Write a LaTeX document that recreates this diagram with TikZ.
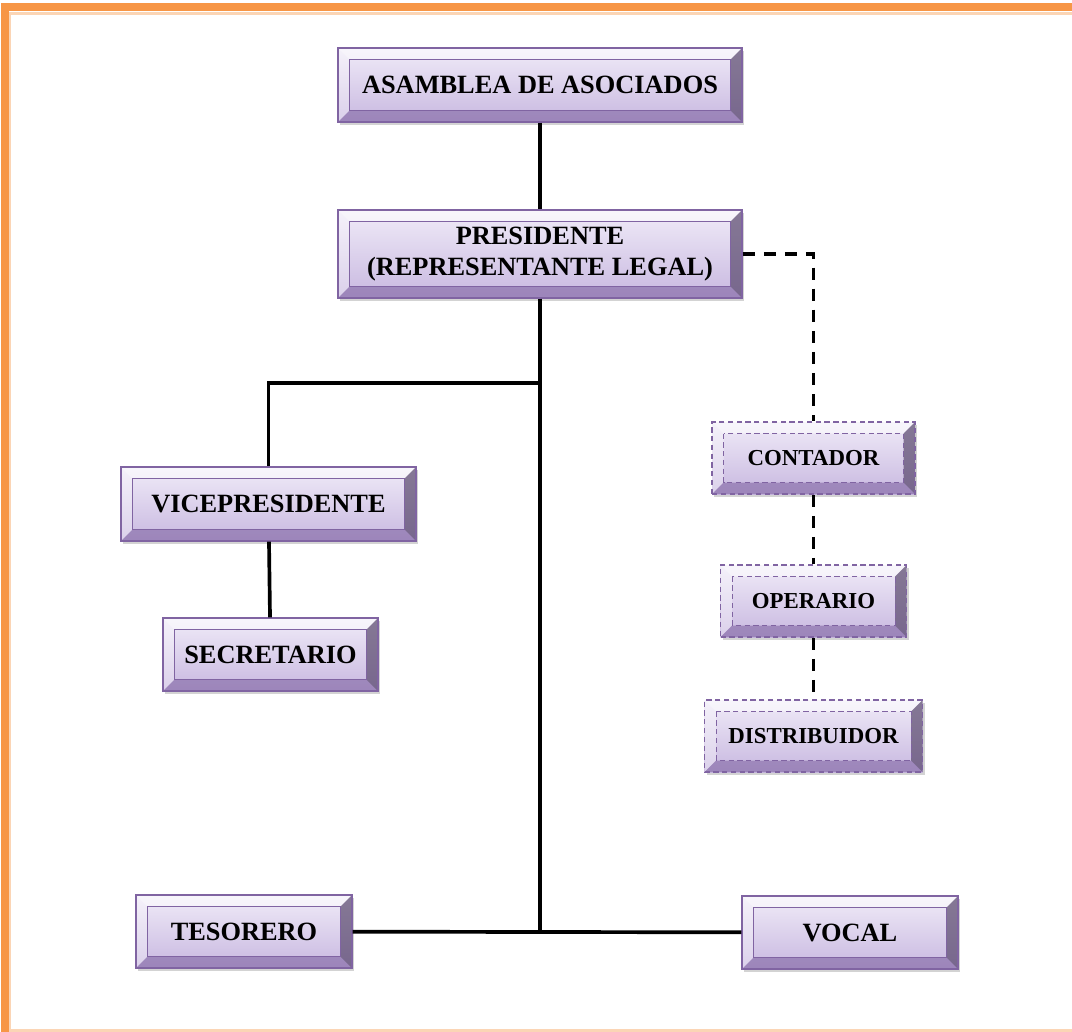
\documentclass[tikz,border=0pt]{standalone}
\usepackage{fontspec}
\setmainfont{Liberation Serif}
\usetikzlibrary{positioning,calc,shadows}

\definecolor{boxline}{HTML}{8064A2}
\definecolor{boxtop}{HTML}{F0EBF8}
\definecolor{boxbot}{HTML}{C8B8E0}
\definecolor{frameor}{HTML}{F79646}
\definecolor{framepale}{HTML}{FBD5B5}

\newcommand\bevsz{0.23cm}
% bevel faces of a box, #1 = style of the inner rim
\newcommand\bevelpaint[1]{%
  \path (path picture bounding box.north west) coordinate (bnw)
        (path picture bounding box.north east) coordinate (bne)
        (path picture bounding box.south west) coordinate (bsw)
        (path picture bounding box.south east) coordinate (bse);
  \fill[white,opacity=.55] (bnw) -- (bne) -- ($(bne)+(-\bevsz,-\bevsz)$) -- ($(bnw)+(\bevsz,-\bevsz)$) -- cycle;
  \fill[white,opacity=.35] (bnw) -- (bsw) -- ($(bsw)+(\bevsz,\bevsz)$) -- ($(bnw)+(\bevsz,-\bevsz)$) -- cycle;
  \fill[boxline,opacity=.6] (bsw) -- (bse) -- ($(bse)+(-\bevsz,\bevsz)$) -- ($(bsw)+(\bevsz,\bevsz)$) -- cycle;
  \fill[boxline!60!black,opacity=.65] (bne) -- (bse) -- ($(bse)+(-\bevsz,\bevsz)$) -- ($(bne)+(-\bevsz,-\bevsz)$) -- cycle;
  \draw[boxline,line width=.5pt,#1] ($(bnw)+(\bevsz,-\bevsz)$) rectangle ($(bse)+(-\bevsz,\bevsz)$);
}

\begin{document}
\begin{tikzpicture}[bevbox/.style={draw=boxline,line width=.8pt,top color=boxtop,bottom color=boxbot,
     drop shadow={shadow xshift=1.2pt,shadow yshift=-1.5pt,opacity=.35},
     minimum height=1.48cm,inner sep=0pt,align=center,
     font=\bfseries\fontsize{15}{18}\selectfont,path picture={\bevelpaint{solid}}},
   dbevbox/.style={bevbox,dash pattern=on 3pt off 2pt,
     minimum height=1.44cm,font=\bfseries\fontsize{13}{16}\selectfont,
     path picture={\bevelpaint{dash pattern=on 3pt off 2pt}}},
   link/.style={black,line width=2.1pt},
   dlink/.style={link,dash pattern=on 7pt off 5pt}]
 \useasboundingbox (0,0) rectangle (21.44,-20.64);

 %marco
 \draw[framepale,line width=.05cm] (0.2,-20.64) -- (0.2,-0.27) -- (21.44,-0.27);
 \draw[framepale,line width=.05cm] (0.1,-20.61) -- (21.44,-20.61);
 \draw[frameor,line width=.16cm] (0.1,-20.64) -- (0.1,-0.15) -- (21.44,-0.15);

 %cargos principales
 \node[bevbox,minimum width=8.08cm] (asam) at (10.8,-1.7) {ASAMBLEA DE ASOCIADOS};
 \node[bevbox,minimum width=8.08cm,minimum height=1.76cm] (pres) at (10.8,-5.08) {PRESIDENTE\\(REPRESENTANTE LEGAL)};
 \node[bevbox,minimum width=5.9cm] (vice) at (5.37,-10.08) {VICEPRESIDENTE};
 \node[bevbox,minimum width=4.3cm,minimum height=1.46cm] (secr) at (5.41,-13.09) {SECRETARIO};
 \node[bevbox,minimum width=4.32cm,minimum height=1.46cm] (teso) at (4.88,-18.63) {TESORERO};
 \node[bevbox,minimum width=4.32cm,minimum height=1.46cm] (voca) at (17.0,-18.65) {VOCAL};

 %apoyo externo
 \node[dbevbox,minimum width=4.06cm] (cont) at (16.27,-9.16) {CONTADOR};
 \node[dbevbox,minimum width=3.72cm] (oper) at (16.27,-12.02) {OPERARIO};
 \node[dbevbox,minimum width=4.36cm] (dist) at (16.27,-14.72) {DISTRIBUIDOR};

 \coordinate (brazo) at (10.8,-7.66);
 \coordinate (base) at (pres.south |- teso.east);

 %lineas
 \draw[link] (asam) -- (pres);
 \draw[link] (pres) -- (base);
 \draw[link] (brazo) -| (vice);
 \draw[link] (vice) -- (secr);
 \draw[link] (teso) -- (voca);
 \draw[dlink] (pres.east) -| (cont.north);
 \draw[dlink] (cont) -- (oper);
 \draw[dlink] (oper) -- (dist);
\end{tikzpicture}
\end{document}
